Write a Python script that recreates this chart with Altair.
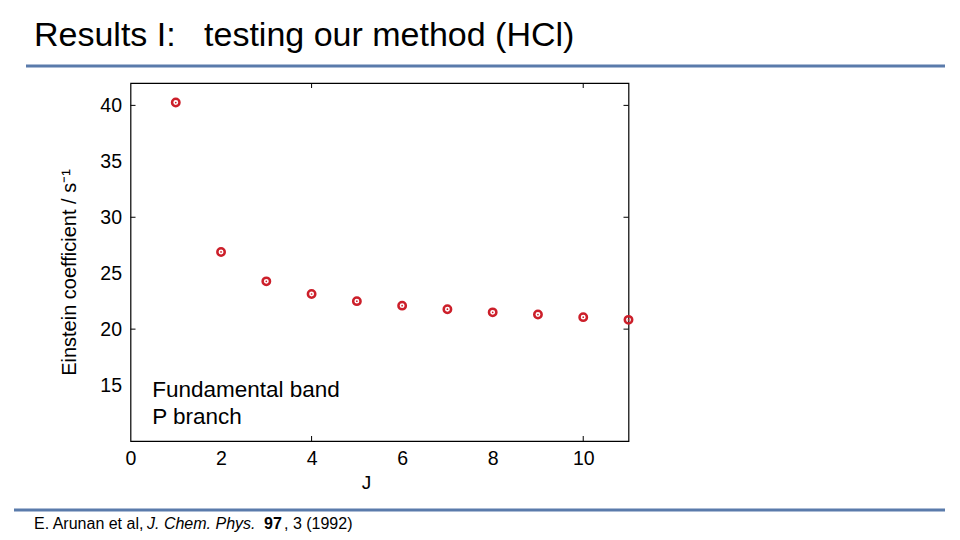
import altair as alt
import pandas as pd

J = [1, 2, 3, 4, 5, 6, 7, 8, 9, 10, 11]
A = [40.25, 26.9, 24.27, 23.14, 22.5, 22.1, 21.78, 21.5, 21.3, 21.07, 20.83]
x_ticks = [0, 2, 4, 6, 8, 10]
y_ticks = [15, 20, 25, 30, 35, 40]
inner_x_ticks = [4, 10]
inner_y_ticks = [20, 30, 40]

RED = "#cc1f2a"
BLUE = "#5a7bab"
FONT = "Liberation Sans"
W, H = 498, 358
NB = "\u00a0"

df = pd.DataFrame({"J": J, "A": A})
xs = alt.Scale(domain=[0, 11], nice=False, zero=False)
ys = alt.Scale(domain=[10, 42], nice=False, zero=False)

xax = alt.Axis(values=x_ticks, ticks=False, tickSize=0, domain=False, grid=False, labelFlush=False,
               labelFontSize=19.5, labelFont=FONT, labelColor="black", labelPadding=8,
               title="J", titleFont=FONT, titleFontSize=19, titleFontWeight="normal",
               titleColor="black", titleX=235.5, titleY=47, titleBaseline="alphabetic")
yax = alt.Axis(values=y_ticks, ticks=False, tickSize=0, domain=False, grid=False, labelFlush=False,
               labelFontSize=19.5, labelFont=FONT, labelColor="black", labelPadding=9,
               title="Einstein coefficient / s\u207b\u00b9", titleFont=FONT, titleFontSize=20,
               titleFontWeight="normal", titleColor="black",
               titleX=-55, titleY=189, titleBaseline="alphabetic")

base = alt.Chart(df)
rings = base.mark_point(shape="circle", filled=False, color=RED, size=55, strokeWidth=2.5, opacity=1).encode(
    x=alt.X("J:Q", scale=xs, axis=xax),
    y=alt.Y("A:Q", scale=ys, axis=yax),
)
dots = base.mark_point(shape="circle", filled=True, color=RED, size=3, opacity=1).encode(
    x=alt.X("J:Q", scale=xs), y=alt.Y("A:Q", scale=ys)
)

tx = pd.DataFrame({"v": inner_x_ticks})
ty = pd.DataFrame({"v": inner_y_ticks})
tick_top = alt.Chart(tx).mark_rule(color="black", strokeWidth=1).encode(
    x=alt.X("v:Q", scale=xs), y=alt.value(0), y2=alt.value(5))
tick_bot = alt.Chart(tx).mark_rule(color="black", strokeWidth=1).encode(
    x=alt.X("v:Q", scale=xs), y=alt.value(H), y2=alt.value(H - 5))
tick_left = alt.Chart(ty).mark_rule(color="black", strokeWidth=1).encode(
    y=alt.Y("v:Q", scale=ys), x=alt.value(0), x2=alt.value(5))
tick_right = alt.Chart(ty).mark_rule(color="black", strokeWidth=1).encode(
    y=alt.Y("v:Q", scale=ys), x=alt.value(W), x2=alt.value(W - 5))

note = alt.Chart(pd.DataFrame({"x": [0.48], "y": [13.95], "t": ["Fundamental band\nP branch"]})).mark_text(
    align="left", baseline="alphabetic", fontSize=22.5, font=FONT, color="black",
    lineBreak="\n", lineHeight=27
).encode(x=alt.X("x:Q", scale=xs), y=alt.Y("y:Q", scale=ys), text="t:N")

title = alt.Chart(pd.DataFrame({"t": ["Results I:" + NB * 3 + "testing our method (HCl)"]})).mark_text(
    align="left", baseline="alphabetic", fontSize=34, font=FONT, color="black"
).encode(x=alt.value(-96.5), y=alt.value(-37), text="t:N")

rule_top = alt.Chart(pd.DataFrame({"a": [0]})).mark_rule(color=BLUE, strokeWidth=3).encode(
    x=alt.value(-104.5), x2=alt.value(814.5), y=alt.value(-17))
rule_bot = alt.Chart(pd.DataFrame({"a": [0]})).mark_rule(color=BLUE, strokeWidth=3).encode(
    x=alt.value(-116.5), x2=alt.value(814.5), y=alt.value(427))

def foot(text, x, weight="normal", style="normal"):
    return alt.Chart(pd.DataFrame({"t": [text]})).mark_text(
        align="left", baseline="alphabetic", fontSize=16, font=FONT, color="black",
        fontWeight=weight, fontStyle=style
    ).encode(x=alt.value(x), y=alt.value(445.5), text="t:N")

footer = [
    foot("E. Arunan et al,", -96.5),
    foot("J. Chem. Phys.", 16.5, style="italic"),
    foot("97", 133.5, weight="bold"),
    foot(", 3 (1992)", 153.5),
]

chart = alt.layer(
    rings, dots, tick_top, tick_bot, tick_left, tick_right, note, title, rule_top, rule_bot, *footer
).properties(
    width=W, height=H,
    autosize=alt.AutoSizeParams(type="none"),
    padding={"left": 122.5, "top": 75, "right": 320, "bottom": 91},
).configure(background="white").configure_view(stroke="black", strokeWidth=1.2)

chart.save("out.html", embed_options={"renderer": "svg", "actions": False})
